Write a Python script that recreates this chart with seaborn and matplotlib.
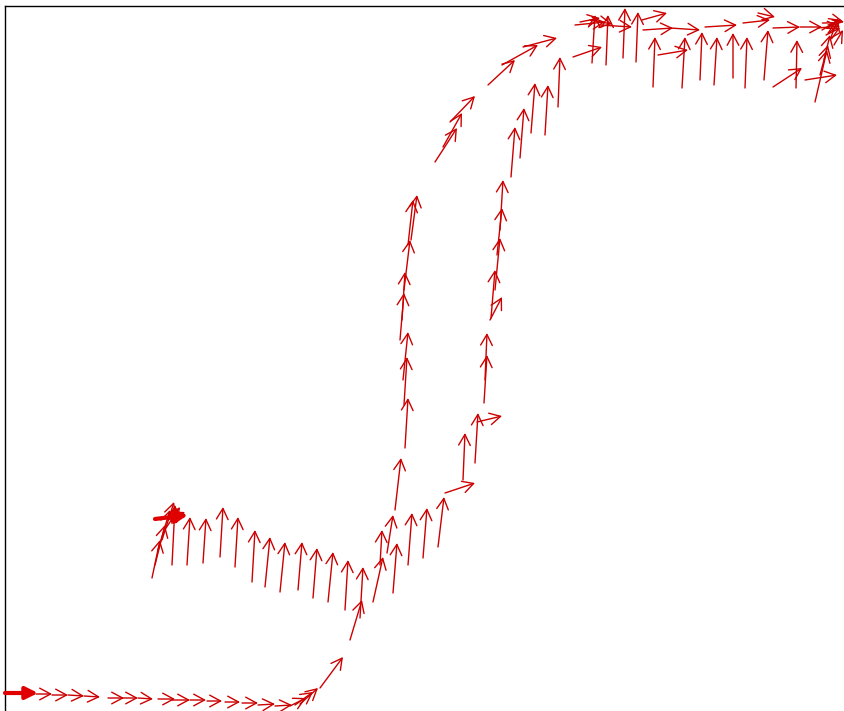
import matplotlib
matplotlib.use("Agg")
import matplotlib.pyplot as plt
import seaborn as sns

# Arrow field, pixel-like units (x to the right, y downward)
# tail positions
x_tail = [
    # bottom row
    36, 52, 68, 84, 108, 122, 138, 158, 172, 190, 207, 225, 242, 258, 275,
    290, 295, 300, 320, 350,
    # left cluster
    152, 155, 158, 162, 166, 168,
    172, 187, 203, 220, 235, 252, 265, 280, 298, 313, 328, 345, 360,
    # middle ascending
    373, 380, 387, 393, 408, 423, 438, 445, 395, 463, 475, 477, 405,
    # left column
    404, 403, 400, 402, 404, 408, 411,
    # right column
    484, 485, 490, 491, 495, 497, 500,
    # upper column
    511, 520, 531, 545, 558,
    # upper diagonal
    435, 443, 450, 488, 502, 523, 573,
    # top row verticals
    592, 606, 623, 636, 653, 682, 700, 714, 733, 745, 764, 796, 815,
    # top row horizontals
    575, 600, 642, 643, 670, 705, 743, 758, 773, 800, 658, 773, 805, 580, 590,
    # right edge cluster
    822, 826, 828, 830, 824, 820, 832, 818, 834,
]
y_tail = [
    694, 695, 695, 696, 698, 698, 698, 699, 700, 700, 701, 702, 703, 705, 706,
    706, 705, 704, 688, 640,
    578, 565, 550, 540, 528, 520,
    565, 565, 563, 557, 567, 582, 587, 592, 590, 598, 602, 610, 618,
    602, 565, 553, 593, 565, 558, 547, 493, 510, 480, 463, 422, 448,
    405, 380, 340, 320, 290, 245, 240,
    403, 380, 320, 318, 290, 255, 230,
    177, 158, 133, 135, 107,
    162, 147, 122, 85, 65, 47, 57,
    63, 65, 58, 62, 87, 88, 80, 85, 78, 88, 80, 88, 102,
    25, 25, 20, 30, 28, 27, 23, 13, 28, 27, 55, 87, 80, 22, 20,
    30, 35, 25, 40, 60, 75, 20, 28, 45,
]
# head positions
x_head = [
    52, 68, 84, 100, 124, 138, 153, 175, 190, 206, 222, 240, 258, 275, 292,
    306, 313, 318, 343, 362,
    160, 165, 170, 174, 180, 185,
    175, 190, 206, 223, 238, 255, 270, 285, 302, 317, 333, 348, 363,
    383, 382, 393, 397, 412, 427, 444, 475, 401, 465, 478, 502, 408,
    407, 408, 404, 405, 410, 413, 417,
    487, 487, 502, 495, 500, 502, 503,
    515, 524, 535, 548, 560,
    457, 462, 475, 515, 538, 557, 602,
    595, 608, 625, 638, 655, 685, 702, 717, 733, 747, 768, 797, 827,
    605, 632, 667, 673, 700, 737, 770, 775, 800, 822, 688, 802, 837, 600, 612,
    836, 840, 842, 838, 830, 828, 844, 840, 843,
]
y_head = [
    694, 695, 696, 697, 698, 698, 699, 699, 700, 700, 701, 702, 703, 704, 705,
    698, 692, 688, 657, 600,
    540, 525, 510, 502, 507, 512,
    505, 517, 518, 507, 517, 530, 537, 542, 542, 548, 552, 560, 567,
    557, 530, 515, 543, 513, 508, 497, 483, 458, 433, 413, 416, 398,
    357, 332, 293, 272, 240, 200, 195,
    355, 333, 297, 270, 238, 208, 180,
    127, 108, 83, 85, 57,
    128, 113, 96, 60, 45, 38, 47,
    15, 15, 8, 12, 37, 37, 32, 37, 33, 37, 30, 40, 50,
    22, 27, 13, 28, 30, 25, 20, 17, 27, 27, 50, 68, 75, 18, 24,
    22, 28, 20, 18, 35, 45, 22, 26, 30,
]

# thicker start arrows
thick_tail_x = [5, 155]
thick_tail_y = [693, 519]
thick_head_x = [38, 188]
thick_head_y = [693, 515]

sns.set_theme(style="white")

fig = plt.figure(figsize=(8.44, 7.11), dpi=100)
ax = fig.add_axes([5 / 844, 0, 1, 1 - 6 / 711])
ax.set_xlim(5, 849)
ax.set_ylim(711, 6)
ax.set_xticks([])
ax.set_yticks([])
for side in ["right", "bottom"]:
    ax.spines[side].set_visible(False)
for side in ["left", "top"]:
    ax.spines[side].set_color("black")
    ax.spines[side].set_linewidth(1.0)

red = "#cc0000"
for xt, yt, xh, yh in zip(x_tail, y_tail, x_head, y_head):
    ax.annotate("", xy=(xh, yh), xytext=(xt, yt),
                arrowprops=dict(arrowstyle="->,head_length=0.65,head_width=0.35",
                                color=red, lw=1.0, shrinkA=0, shrinkB=0))

for xt, yt, xh, yh in zip(thick_tail_x, thick_tail_y, thick_head_x, thick_head_y):
    ax.annotate("", xy=(xh, yh), xytext=(xt, yt),
                arrowprops=dict(arrowstyle="-|>,head_length=0.6,head_width=0.3",
                                color="#e00000", lw=3.0, shrinkA=0, shrinkB=0))

fig.savefig("out.png", dpi=100)
